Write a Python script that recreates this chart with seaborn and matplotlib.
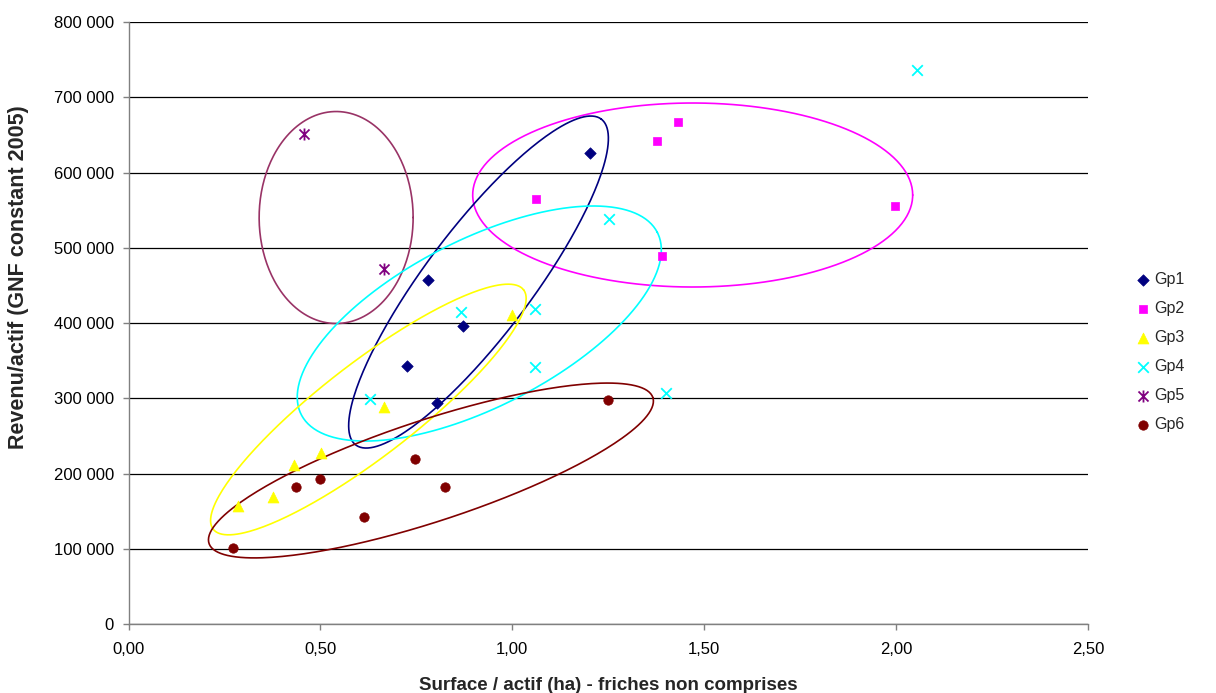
import numpy as np
import pandas as pd
import seaborn as sns
import matplotlib.pyplot as plt
from matplotlib.path import Path
from matplotlib.ticker import FuncFormatter, MultipleLocator

# data: surface per worker (ha) and income per worker (GNF)
gp1_x = [1.202, 0.780, 0.871, 0.726, 0.805]
gp1_y = [625600, 457300, 396200, 343100, 293500]
gp2_x = [1.431, 1.376, 1.063, 1.390, 1.998]
gp2_y = [667500, 642300, 564900, 489200, 555600]
gp3_x = [0.286, 0.376, 0.430, 0.502, 0.665, 1.000]
gp3_y = [157100, 169500, 211600, 227900, 289000, 410800]
gp4_x = [2.054, 1.251, 0.867, 1.058, 1.058, 0.628, 1.400]
gp4_y = [736300, 538300, 415200, 418800, 341700, 298800, 306800]
gp5_x = [0.458, 0.665]
gp5_y = [651200, 471500]
gp6_x = [0.272, 0.436, 0.500, 0.614, 0.747, 0.824, 1.249]
gp6_y = [101300, 182800, 192600, 142100, 219200, 182800, 298400]

groups = ["Gp1", "Gp2", "Gp3", "Gp4", "Gp5", "Gp6"]
xs = [gp1_x, gp2_x, gp3_x, gp4_x, gp5_x, gp6_x]
ys = [gp1_y, gp2_y, gp3_y, gp4_y, gp5_y, gp6_y]

# hand drawn ellipses round the groups (centre in data units, half axes in pixels, angle in degrees)
ell_color = ["#993366", "#FF00FF", "#000080", "#00FFFF", "#FFFF00", "#800000"]
ell_cx = [0.541, 1.470, 0.912, 0.914, 0.625, 0.788]
ell_cy = [540300, 570200, 454600, 399500, 285300, 204300]
ell_a = [77, 220, 204, 200, 196, 233.6]
ell_b = [106, 92, 53, 83.4, 46.8, 50.7]
ell_ang = [0, 0, 53, 27.1, 37.65, 18.2]

# excel style star: an x with a vertical bar through it
star = Path([(-1, -1), (1, 1), (-1, 1), (1, -1), (0, -1.2), (0, 1.2)],
            [Path.MOVETO, Path.LINETO, Path.MOVETO, Path.LINETO, Path.MOVETO, Path.LINETO])

colors = ["#000080", "#FF00FF", "#FFFF00", "#00FFFF", "#800080", "#800000"]
markers = ["D", "s", "^", "x", star, "o"]
sizes = [34, 38, 62, 58, 75, 46]

sns.set_style("white")
plt.rcParams["font.family"] = ["Liberation Sans", "DejaVu Sans"]

fig = plt.figure(figsize=(12.16, 6.93), dpi=100)
left, right, top, bottom = 128.5 / 1216, 1088 / 1216, 1 - 22 / 693, 1 - 624.3 / 693
ax = fig.add_axes([left, bottom, right - left, top - bottom])

for g, x, y, c, m, s in zip(groups, xs, ys, colors, markers, sizes):
    df = pd.DataFrame({"x": x, "y": y})
    if m in ("x",) or isinstance(m, Path):
        sns.scatterplot(data=df, x="x", y="y", marker=m, s=s, color=c, edgecolor=c,
                        linewidth=1.3, label=g, ax=ax, zorder=4)
    else:
        sns.scatterplot(data=df, x="x", y="y", marker=m, s=s, color=c, edgecolor=c,
                        linewidth=0.5, label=g, ax=ax, zorder=4)

ax.set_xlim(0, 2.5)
ax.set_ylim(0, 800000)

# ellipses: built in pixel space then mapped back to data units
sx = (right - left) * 1216 / 2.5
sy = (top - bottom) * 693 / 800000
t = np.linspace(0, 2 * np.pi, 300)
for c, cx, cy, a, b, ang in zip(ell_color, ell_cx, ell_cy, ell_a, ell_b, ell_ang):
    th = np.deg2rad(ang)
    dx = a * np.cos(t) * np.cos(th) - b * np.sin(t) * np.sin(th)
    dy = a * np.cos(t) * np.sin(th) + b * np.sin(t) * np.cos(th)
    ax.plot(cx + dx / sx, cy + dy / sy, color=c, lw=1.2, zorder=3)

ax.xaxis.set_major_locator(MultipleLocator(0.5))
ax.yaxis.set_major_locator(MultipleLocator(100000))
ax.xaxis.set_major_formatter(FuncFormatter(lambda v, p: f"{v:.2f}".replace(".", ",")))
ax.yaxis.set_major_formatter(FuncFormatter(lambda v, p: f"{v:,.0f}".replace(",", " ")))

ax.yaxis.grid(True, color="black", lw=0.9)
ax.xaxis.grid(False)
ax.set_axisbelow(True)
for side in ["top", "right"]:
    ax.spines[side].set_visible(False)
for side in ["left", "bottom"]:
    ax.spines[side].set_color("#808080")
    ax.spines[side].set_linewidth(1)
ax.tick_params(axis="both", direction="out", length=4.5, width=1, color="#808080",
               labelsize=12, labelcolor="black")
ax.tick_params(axis="x", pad=8, bottom=True)
ax.tick_params(axis="y", pad=6, left=True)

ax.set_xlabel("Surface / actif (ha) - friches non comprises", fontsize=13.5, fontweight="bold")
ax.set_ylabel("Revenu/actif (GNF constant 2005)", fontsize=15.5, fontweight="bold")
ax.xaxis.set_label_coords(0.5, -0.087)
ax.yaxis.set_label_coords(-0.104, 0.577)

ax.legend(loc="center left", bbox_to_anchor=(1137 / 1216, 0.492), bbox_transform=fig.transFigure,
          frameon=False, fontsize=11.5, handlelength=0.8, handletextpad=0.25,
          labelspacing=0.87, borderpad=0, borderaxespad=0)

fig.savefig("out.png", dpi=100)
